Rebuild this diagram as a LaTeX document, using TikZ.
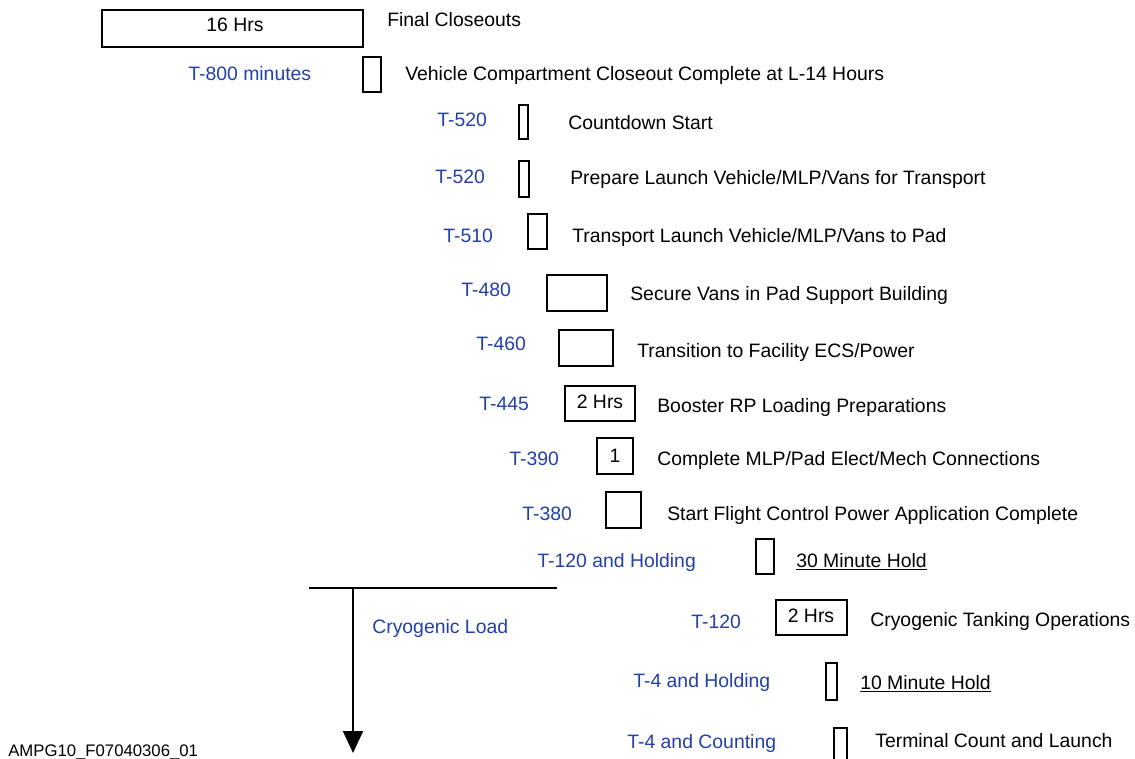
\documentclass[tikz,border=0pt]{standalone}
\usepackage{fontspec}
\setmainfont{Liberation Sans}
\usepackage{tikz}
\usetikzlibrary{positioning, fit, arrows.meta}

\definecolor{tblue}{RGB}{34,64,168}

\begin{document}
\begin{tikzpicture}[
    x=0.25mm, y=-0.25mm,
    bar/.style={rectangle, draw=black, line width=1.4pt, inner sep=0pt},
    tlabel/.style={text=tblue, font=\fontsize{13.8}{16}\selectfont, inner sep=0pt, anchor=base west},
    task/.style={text=black, font=\fontsize{13.8}{16}\selectfont, inner sep=0pt, anchor=base west},
    arrow/.style={-{Triangle[length=5.5mm, width=5mm]}, line width=1.4pt}
]
\clip (0,0) rectangle (1135,759);

\node[bar, fit={(102,10) (363,47)}] (final) {};
\node[task, anchor=base] (finalhrs) at (235,32) {16 Hrs};
\node[task] (finaltxt) at (387,27) {Final Closeouts};

\node[tlabel] (t800) at (188,81) {T-800 minutes};
\node[bar, fit={(363,57) (381,92)}] (vcc) {};
\node[task] (vcctxt) at (405,81) {Vehicle Compartment Closeout Complete at L-14 Hours};

\node[tlabel] (t520a) at (437,127) {T-520};
\node[bar, fit={(519,105) (528,139)}] (cds) {};
\node[task] (cdstxt) at (568,130) {Countdown Start};

\node[tlabel] (t520b) at (435,184) {T-520};
\node[bar, fit={(519,161) (529,197)}] (prep) {};
\node[task] (preptxt) at (570,185) {Prepare Launch Vehicle/MLP/Vans for Transport};

\node[tlabel] (t510) at (443,243) {T-510};
\node[bar, fit={(528,214) (547,249)}] (trans) {};
\node[task] (transtxt) at (572,243) {Transport Launch Vehicle/MLP/Vans to Pad};

\node[tlabel] (t480) at (461,296) {T-480};
\node[bar, fit={(547,275) (607,311)}] (vans) {};
\node[task] (vanstxt) at (630,300) {Secure Vans in Pad Support Building};

\node[tlabel] (t460) at (476,350) {T-460};
\node[bar, fit={(559,330) (613,366)}] (ecs) {};
\node[task] (ecstxt) at (637,357) {Transition to Facility ECS/Power};

\node[tlabel] (t445) at (479,410) {T-445};
\node[bar, fit={(565,386) (635,421)}] (rp) {};
\node[task, anchor=base] (rphrs) at (600,408) {2 Hrs};
\node[task] (rptxt) at (657,412) {Booster RP Loading Preparations};

\node[tlabel] (t390) at (509,465) {T-390};
\node[bar, fit={(597,438) (633,474)}] (mlp) {};
\node[task, anchor=base] (mlpone) at (615,462) {1};
\node[task] (mlptxt) at (657,465) {Complete MLP/Pad Elect/Mech Connections};

\node[tlabel] (t380) at (522,520) {T-380};
\node[bar, fit={(606,492) (641,528)}] (fcp) {};
\node[task] (fcptxt) at (667,520) {Start Flight Control Power Application Complete};

\node[tlabel] (t120a) at (537,567) {T-120 and Holding};
\node[bar, fit={(756,539) (774,574)}] (hold30) {};
\node[task] (hold30txt) at (796,567) {\underline{30 Minute Hold}};

% cryogenic load marker
\coordinate (loadl) at (309,588);
\coordinate (loadr) at (557,588);
\coordinate (loadtop) at (353,588);
\coordinate (loadend) at (353,753);
\draw[line width=1.4pt] (loadl) -- (loadr);
\draw[arrow] (loadtop) -- (loadend);
\node[tlabel] (cryo) at (372,633) {Cryogenic Load};

\node[tlabel] (t120b) at (691,628) {T-120};
\node[bar, fit={(776,600) (847,635)}] (tank) {};
\node[task, anchor=base] (tankhrs) at (811,622) {2 Hrs};
\node[task] (tanktxt) at (870,626) {Cryogenic Tanking Operations};

\node[tlabel] (t4a) at (633,687) {T-4 and Holding};
\node[bar, fit={(826,663) (837,700)}] (hold10) {};
\node[task] (hold10txt) at (860,689) {\underline{10 Minute Hold}};

\node[tlabel] (t4b) at (627,748) {T-4 and Counting};
\node[bar, fit={(834,728) (847,775)}] (launch) {};
\node[task] (launchtxt) at (875,747) {Terminal Count and Launch};

\node[task, font=\fontsize{11.9}{14}\selectfont] (figid) at (8,756) {AMPG10\_F07040306\_01};

\end{tikzpicture}
\end{document}
